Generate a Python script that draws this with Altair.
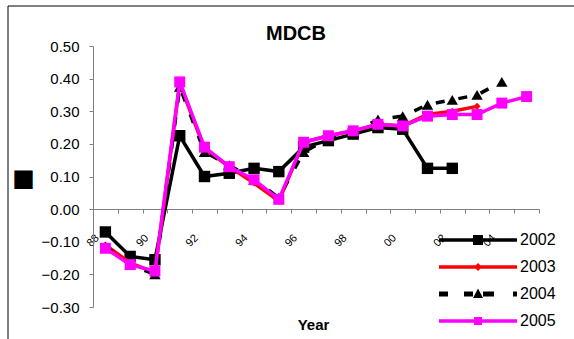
import altair as alt
import pandas as pd

# ---- data ----
categories = ["88", "89", "90", "91", "92", "93", "94", "95", "96",
              "97", "98", "99", "00", "01", "02", "03", "04", "05"]
series_names = ["2002", "2003", "2004", "2005"]

v2002 = [-0.07, -0.145, -0.155, 0.225, 0.10, 0.11, 0.125, 0.115, 0.19,
         0.21, 0.23, 0.25, 0.245, 0.125, 0.125]
v2003 = [-0.11, -0.165, -0.195, 0.385, 0.185, 0.13, 0.08, 0.025, 0.205,
         0.225, 0.24, 0.26, 0.255, 0.29, 0.30, 0.315]
v2004 = [-0.115, -0.17, -0.20, 0.375, 0.175, 0.135, 0.09, 0.035, 0.175,
         0.215, 0.235, 0.275, 0.285, 0.32, 0.335, 0.35, 0.39]
v2005 = [-0.12, -0.17, -0.19, 0.39, 0.19, 0.13, 0.09, 0.03, 0.205,
         0.225, 0.24, 0.26, 0.255, 0.285, 0.29, 0.29, 0.325, 0.345]

y_ticks = [-0.3, -0.2, -0.1, 0.0, 0.1, 0.2, 0.3, 0.4, 0.5]

# ---- styling ----
colors = ["#000000", "#FF0000", "#000000", "#FF00FF"]
FONT = "Liberation Sans"

rows = []
for name, vals in zip(series_names, [v2002, v2003, v2004, v2005]):
    for i, v in enumerate(vals):
        rows.append({"series": name, "idx": i + 1, "label": categories[i], "value": v})
df = pd.DataFrame(rows)

n = len(categories)
tick_vals = [i + 0.5 for i in range(n + 1)]
label_arr = "[" + ",".join("'" + c + "'" for c in categories) + "]"
label_expr = ("(datum.value %% 2 == 0.5 && datum.value < %d) ? %s[datum.value - 0.5] : ''"
              % (n, label_arr))

x_enc = alt.X(
    "idx:Q",
    scale=alt.Scale(domain=[0.5, n + 0.5], nice=False, zero=False),
    axis=alt.Axis(
        values=tick_vals, labelExpr=label_expr, offset=-98,
        tickSize=4, tickColor="#808080", domainColor="#808080",
        labelAngle=-45, labelAlign="right", labelBaseline="middle",
        labelPadding=23, labelOffset=4, labelFontSize=11, labelFont=FONT,
        labelColor="#000000", grid=False,
        title="Year", titleFont=FONT, titleFontSize=15, titleFontWeight="bold",
        titleColor="#000000", titleX=220, titleY=120, titleBaseline="alphabetic",
        titleAlign="center",
    ),
)
y_enc = alt.Y(
    "value:Q",
    scale=alt.Scale(domain=[-0.3, 0.5], nice=False, zero=False),
    axis=alt.Axis(
        values=y_ticks, format=".2f", tickSize=4, tickColor="#808080",
        domainColor="#808080", labelFontSize=15, labelFont=FONT,
        labelColor="#000000", labelPadding=10, grid=False,
        title="■", titleAngle=0, titleX=-70, titleY=132, titleFontSize=24,
        titleFont="DejaVu Sans", titleAlign="center", titleBaseline="middle",
        titleColor="#000000",
    ),
)

styles = {
    "2002": dict(color="#000000", shape="square", size=130, dash=None),
    "2003": dict(color="#FF0000", shape="diamond", size=50, dash=None),
    "2004": dict(color="#000000", shape="triangle-up", size=130, dash=[9, 14]),
    "2005": dict(color="#FF00FF", shape="square", size=120, dash=None),
}

layers = []
for name in series_names:
    st = styles[name]
    base = alt.Chart(df).transform_filter(alt.datum.series == name)
    line_kw = dict(color=st["color"], strokeWidth=3.5)
    if st["dash"]:
        line_kw["strokeDash"] = st["dash"]
    layers.append(base.mark_line(**line_kw).encode(x=x_enc, y=y_enc))
    layers.append(base.mark_point(shape=st["shape"], size=st["size"], filled=True,
                                  opacity=1, color=st["color"]).encode(x=x_enc, y=y_enc))

# legend symbols: line + marker drawn as custom paths (units of r = 5px)
ln = "M-7.8,-0.35H7.8V0.35H-7.8Z"
paths = [
    ln + " M-1,-1H1V1H-1Z",
    ln + " M0,-0.8L0.8,0L0,0.8L-0.8,0Z",
    "M-7.8,-0.5H-6V0.5H-7.8Z M-2.8,-0.5H-1V0.5H-2.8Z M0,-1.1L1,0.8H-1Z M1,-0.5H3.2V0.5H1Z M7,-0.5H7.8V0.5H7Z",
    ln + " M-0.8,-0.8H0.8V0.8H-0.8Z",
]
leg = alt.Legend(orient="none", legendX=377, legendY=186, title=None, padding=0,
                 symbolSize=100, symbolStrokeWidth=0, labelFontSize=16, labelFont=FONT,
                 labelColor="#000000", labelOffset=34, rowPadding=11)
legend_layer = alt.Chart(df).transform_filter("datum.idx < 0").mark_point(
    filled=True, opacity=1).encode(
    x=x_enc, y=y_enc,
    color=alt.Color("series:N", scale=alt.Scale(domain=series_names, range=colors), legend=leg),
    shape=alt.Shape("series:N", scale=alt.Scale(domain=series_names, range=paths), legend=leg),
)

frame = alt.Chart(pd.DataFrame({"f": [0]})).mark_rect(
    fill=None, stroke="#000000", strokeWidth=1).encode(
    x=alt.value(-85), x2=alt.value(700), y=alt.value(-40), y2=alt.value(500))

chart = alt.layer(frame, *layers, legend_layer).properties(
    width=446, height=261,
    padding={"left": 93, "top": 46, "right": 35, "bottom": 32},
    autosize=alt.AutoSizeParams(type="none"),
    background="white",
    title=alt.TitleParams("MDCB", font=FONT, fontSize=20, fontWeight="bold",
                          color="#000000", anchor="middle", frame="group", dx=-20,
                          dy=60, offset=6, baseline="alphabetic"),
).configure_view(strokeWidth=0)

chart.save("out.html", embed_options={"renderer": "svg", "actions": False})
